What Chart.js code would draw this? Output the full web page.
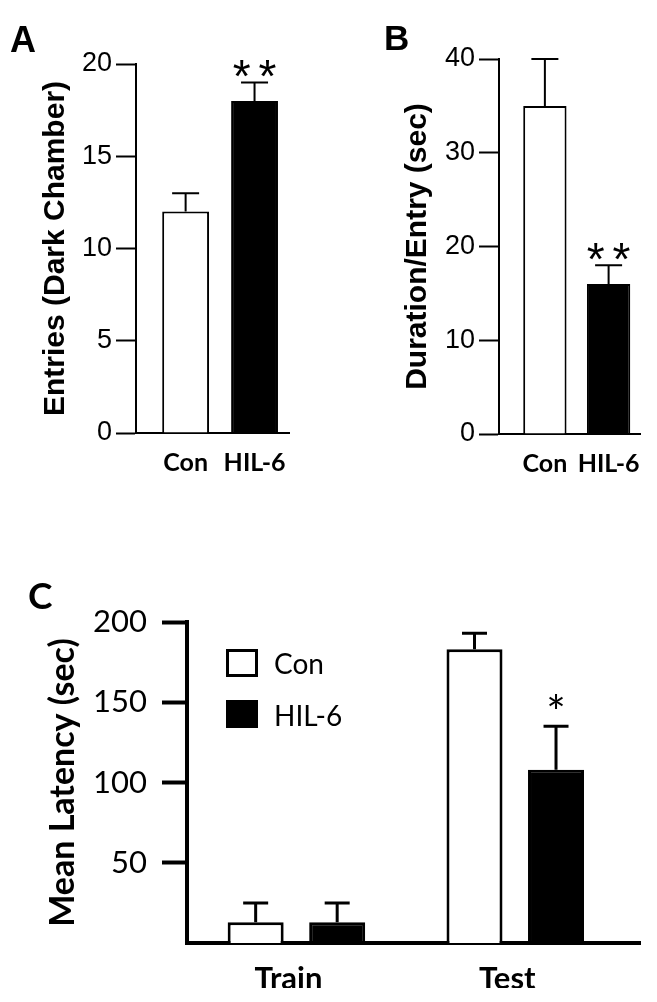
<!DOCTYPE html>
<html lang="en">
  <head>
    <meta charset="UTF-8" />
    <title>Dark chamber entries and latency</title>
    <script src="https://cdn.jsdelivr.net/npm/chart.js@4.4.1/dist/chart.umd.min.js"></script>
    <style>
      body {
        margin: 0;
        background: #fff;
        width: 657px;
        height: 1002px;
        position: relative;
        overflow: hidden;
      }
      canvas {
        position: absolute;
      }
      .letter {
        position: absolute;
        line-height: 1;
        color: #000;
      }
      .legend-box {
        position: absolute;
        box-sizing: border-box;
        width: 32px;
        height: 28px;
        border: 3px solid #000;
      }
      .legend-text {
        position: absolute;
        font: 28px Lato;
        line-height: 28px;
        color: #000;
      }
    </style>
  </head>
  <body>
    <canvas id="chartA" width="330" height="500" style="left: 0; top: 0"></canvas>
    <canvas id="chartB" width="327" height="500" style="left: 330px; top: 0"></canvas>
    <canvas id="chartC" width="657" height="442" style="left: 0; top: 560px"></canvas>

    <div class="letter" style="left: 10px; top: 19px; font: bold 36px 'Liberation Sans'">A</div>
    <div class="letter" style="left: 384px; top: 18px; font: bold 35px 'Liberation Sans'">B</div>
    <div class="letter" style="left: 28px; top: 572px; font: bold 37px Lato">C</div>

    <!-- legend of panel C -->
    <div class="legend-box" style="left: 226px; top: 649px; background: #fff"></div>
    <div class="legend-text" style="left: 274px; top: 649px">Con</div>
    <div class="legend-box" style="left: 226px; top: 700px; background: #000"></div>
    <div class="legend-text" style="left: 274px; top: 701px">HIL-6</div>

    <script>
      // panel A / B
      const groups = ["Con", "HIL-6"];
      const entries = [12, 18];
      const entriesErr = [1, 1];
      const entriesSig = ["", "**"];
      const entriesTicks = [0, 5, 10, 15, 20];

      const duration = [35, 16];
      const durationErr = [5, 2];
      const durationSig = ["", "**"];
      const durationTicks = [0, 10, 20, 30, 40];

      // panel C
      const phases = ["Train", "Test"];
      const latencyCon = [13, 183];
      const latencyConErr = [12, 10];
      const latencyHil = [13, 108];
      const latencyHilErr = [12, 27];
      const latencyConSig = ["", ""];
      const latencyHilSig = ["", "*"];
      const latencyTicks = [50, 100, 150, 200];

      // error bars (upper half only) + significance stars
      const errorBars = {
        id: "errorBars",
        afterDatasetsDraw(chart, args, opts) {
          const ctx = chart.ctx;
          const yScale = chart.scales.y;
          ctx.save();
          ctx.strokeStyle = "#000";
          ctx.fillStyle = "#000";
          ctx.lineWidth = opts.width;
          chart.data.datasets.forEach((ds, di) => {
            const meta = chart.getDatasetMeta(di);
            meta.data.forEach((bar, i) => {
              const top = yScale.getPixelForValue(ds.data[i].y + ds.errors[i]);
              ctx.beginPath();
              ctx.moveTo(bar.x, bar.y);
              ctx.lineTo(bar.x, top);
              ctx.moveTo(bar.x - opts.cap / 2, top);
              ctx.lineTo(bar.x + opts.cap / 2, top);
              ctx.stroke();
              if (ds.sig && ds.sig[i]) {
                ctx.font = opts.font;
                ctx.textAlign = "center";
                ctx.textBaseline = "alphabetic";
                ctx.letterSpacing = opts.spacing + "px";
                ctx.fillText(ds.sig[i], bar.x + opts.spacing / 2, top - opts.gap);
              }
            });
          });
          ctx.restore();
        },
      };

      function pairChart(id, values, errors, sig, yTicks, title, pad, yWidth) {
        return new Chart(document.getElementById(id), {
          type: "bar",
          data: {
            datasets: [
              {
                data: values.map((v, i) => ({ x: i + 1, y: v })),
                errors: errors,
                sig: sig,
                backgroundColor: ["#fff", "#000"],
                borderColor: "#000",
                borderWidth: 2,
                categoryPercentage: 0.8,
                barPercentage: 0.85,
              },
            ],
          },
          options: {
            responsive: false,
            animation: false,
            layout: { padding: pad },
            plugins: {
              legend: { display: false },
              tooltip: { enabled: false },
              errorBars: {
                width: 2,
                cap: 27,
                font: "46px 'Liberation Sans'",
                gap: -10,
                spacing: 8,
              },
            },
            scales: {
              x: {
                type: "linear",
                min: 0.28,
                max: 2.5,
                offset: false,
                afterBuildTicks: (s) => {
                  s.ticks = groups.map((g, i) => ({ value: i + 1 }));
                },
                afterFit: (s) => {
                  s.height = 50;
                },
                grid: { display: false, drawTicks: false, offset: false },
                border: { color: "#000", width: 2 },
                ticks: {
                  autoSkip: false,
                  maxRotation: 0,
                  padding: 15,
                  color: "#000",
                  font: { family: "Lato", weight: "bold", size: 25 },
                  callback: (v, i) => groups[i],
                },
              },
              y: {
                min: yTicks[0],
                max: yTicks[yTicks.length - 1],
                afterBuildTicks: (s) => {
                  s.ticks = yTicks.map((v) => ({ value: v }));
                },
                afterFit: (s) => {
                  s.width = yWidth;
                },
                grid: {
                  drawOnChartArea: false,
                  tickColor: "#000",
                  tickLength: 20,
                  tickWidth: 2,
                },
                border: { color: "#000", width: 2 },
                ticks: {
                  padding: 4,
                  color: "#000",
                  font: { family: "Liberation Sans", size: 27 },
                },
                title: {
                  display: true,
                  text: title,
                  color: "#000",
                  font: { family: "Liberation Sans", weight: "bold", size: 30 },
                  padding: { top: 8, bottom: 0 },
                },
              },
            },
          },
          plugins: [errorBars],
        });
      }

      pairChart(
        "chartA",
        entries,
        entriesErr,
        entriesSig,
        entriesTicks,
        "Entries (Dark Chamber)",
        { left: 30, right: 41, top: 64, bottom: 17 },
        106
      );

      pairChart(
        "chartB",
        duration,
        durationErr,
        durationSig,
        durationTicks,
        "Duration/Entry (sec)",
        { left: 62, right: 11, top: 59, bottom: 16 },
        107
      );

      new Chart(document.getElementById("chartC"), {
        type: "bar",
        data: {
          datasets: [
            {
              label: "Con",
              data: latencyCon.map((v, i) => ({ x: i, y: v })),
              errors: latencyConErr,
              sig: latencyConSig,
              backgroundColor: "#fff",
              borderColor: "#000",
              borderWidth: 3,
              categoryPercentage: 0.745,
              barPercentage: 0.687,
            },
            {
              label: "HIL-6",
              data: latencyHil.map((v, i) => ({ x: i, y: v })),
              errors: latencyHilErr,
              sig: latencyHilSig,
              backgroundColor: "#000",
              borderColor: "#000",
              borderWidth: 3,
              categoryPercentage: 0.745,
              barPercentage: 0.687,
            },
          ],
        },
        options: {
          responsive: false,
          animation: false,
          layout: { padding: { left: 35, right: 17, top: 62, bottom: 14 } },
          plugins: {
            legend: { display: false },
            tooltip: { enabled: false },
            errorBars: { width: 3, cap: 25, font: "46px Lato", gap: -3, spacing: 0 },
          },
          scales: {
            x: {
              type: "linear",
              min: -0.5,
              max: 1.57,
              offset: false,
              afterBuildTicks: (s) => {
                s.ticks = phases.map((p, i) => ({ value: i }));
              },
              afterFit: (s) => {
                s.height = 45;
              },
              grid: { display: false, drawTicks: false, offset: false },
              border: { color: "#000", width: 4 },
              ticks: {
                autoSkip: false,
                maxRotation: 0,
                padding: 17,
                labelOffset: -8,
                color: "#000",
                font: { family: "Lato", weight: "bold", size: 31 },
                callback: (v, i) => phases[i],
              },
            },
            y: {
              min: 0,
              max: latencyTicks[latencyTicks.length - 1],
              afterBuildTicks: (s) => {
                s.ticks = latencyTicks.map((v) => ({ value: v }));
              },
              afterFit: (s) => {
                s.width = 152;
              },
              grid: {
                drawOnChartArea: false,
                tickColor: "#000",
                tickLength: 25,
                tickWidth: 4,
              },
              border: { color: "#000", width: 4 },
              ticks: {
                padding: 15,
                color: "#000",
                font: { family: "Lato", size: 31 },
              },
              title: {
                display: true,
                text: "Mean Latency (sec)",
                color: "#000",
                font: { family: "Lato", weight: "bold", size: 34 },
                padding: { top: 8, bottom: 0 },
              },
            },
          },
        },
        plugins: [errorBars],
      });
    </script>
  </body>
</html>
